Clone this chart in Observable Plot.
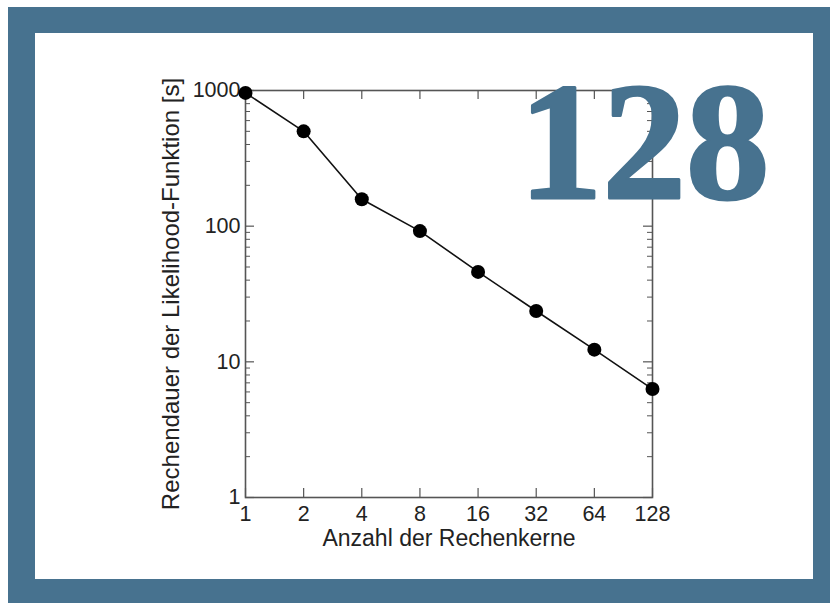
<!DOCTYPE html>
<html>
<head>
<meta charset="utf-8">
<script src="https://cdn.jsdelivr.net/npm/d3@7"></script>
<script src="https://cdn.jsdelivr.net/npm/@observablehq/plot@0.6"></script>
<style>
  html, body { margin: 0; padding: 0; background: #ffffff; }
  #page { position: relative; width: 830px; height: 603px; overflow: hidden; }
  #border { position: absolute; left: 8px; top: 7px; width: 822px; height: 596px; background: #47728f; }
  #inner { position: absolute; left: 35px; top: 33px; width: 778px; height: 546px; background: #ffffff; }
  #chart { position: absolute; left: 0; top: 0; }
  #chart svg { background: transparent !important; }
</style>
</head>
<body>
<div id="page">
  <div id="border"></div>
  <div id="inner"></div>
  <div id="chart"></div>
</div>
<script>
const cores = [1, 2, 4, 8, 16, 32, 64, 128];
const times = [960, 500, 158, 92, 46, 23.7, 12.3, 6.3];
const xTicks = [1, 2, 4, 8, 16, 32, 64, 128];
const yTicks = [1, 10, 100, 1000];
const yMinor = [1, 10, 100].flatMap(d => [2, 3, 4, 5, 6, 7, 8, 9].map(k => k * d));
const xLabel = "Anzahl der Rechenkerne";
const yLabel = "Rechendauer der Likelihood-Funktion [s]";
const badge = "128";

const data = cores.map((c, i) => ({cores: c, time: times[i]}));

const W = 830, H = 603;
const mL = 245, mR = 178, mT = 90, mB = 106;
const fw = W - mL - mR, fh = H - mT - mB;
const axisColor = "#555";
const font = "'Liberation Sans', Arial, sans-serif";

const chart = Plot.plot({
  width: W,
  height: H,
  marginLeft: mL,
  marginRight: mR,
  marginTop: mT,
  marginBottom: mB,
  style: {background: "transparent", fontFamily: font, color: "#222", overflow: "visible"},
  x: {type: "log", base: 2, domain: [1, 128]},
  y: {type: "log", domain: [1, 1000]},
  marks: [
    Plot.tickX(xTicks, {x: d => d, stroke: axisColor, strokeWidth: 1.2, insetTop: fh - 9}),
    Plot.tickX(xTicks, {x: d => d, stroke: axisColor, strokeWidth: 1.2, insetBottom: fh - 9}),
    Plot.tickY(yTicks, {y: d => d, stroke: axisColor, strokeWidth: 1.2, insetRight: fw - 9}),
    Plot.tickY(yTicks, {y: d => d, stroke: axisColor, strokeWidth: 1.2, insetLeft: fw - 9}),
    Plot.tickY(yMinor, {y: d => d, stroke: axisColor, strokeWidth: 1, insetRight: fw - 5}),
    Plot.tickY(yMinor, {y: d => d, stroke: axisColor, strokeWidth: 1, insetLeft: fw - 5}),
    Plot.frame({stroke: axisColor, strokeWidth: 1.6}),
    Plot.axisX(xTicks, {
      anchor: "bottom", tickSize: 0, tickPadding: 8, fontSize: 21.5,
      tickFormat: d => String(d), label: null
    }),
    Plot.axisY(yTicks, {
      anchor: "left", tickSize: 0, tickPadding: 5, fontSize: 21.5,
      tickFormat: d => String(d), label: null
    }),
    Plot.text([xLabel], {
      text: d => d, frameAnchor: "bottom", dy: 48, lineAnchor: "bottom",
      textAnchor: "middle", fontSize: 23, fill: "#222"
    }),
    Plot.text([yLabel], {
      text: d => d, frameAnchor: "left", dx: -67, rotate: -90, lineAnchor: "bottom",
      textAnchor: "middle", fontSize: 24, fill: "#222"
    }),
    Plot.line(data, {x: "cores", y: "time", stroke: "#111", strokeWidth: 1.6}),
    Plot.dot(data, {x: "cores", y: "time", r: 7, fill: "#000", stroke: "none"}),
    Plot.text([badge], {
      text: d => d, frameAnchor: "top-right", dx: 117, dy: 107,
      textAnchor: "end", lineAnchor: "bottom",
      fontSize: 167, fontWeight: "bold", fill: "#47728f",
      stroke: "#47728f", strokeWidth: 3,
      fontFamily: "'Liberation Serif', 'DejaVu Serif', serif"
    })
  ]
});
document.getElementById("chart").appendChild(chart);
</script>
</body>
</html>
